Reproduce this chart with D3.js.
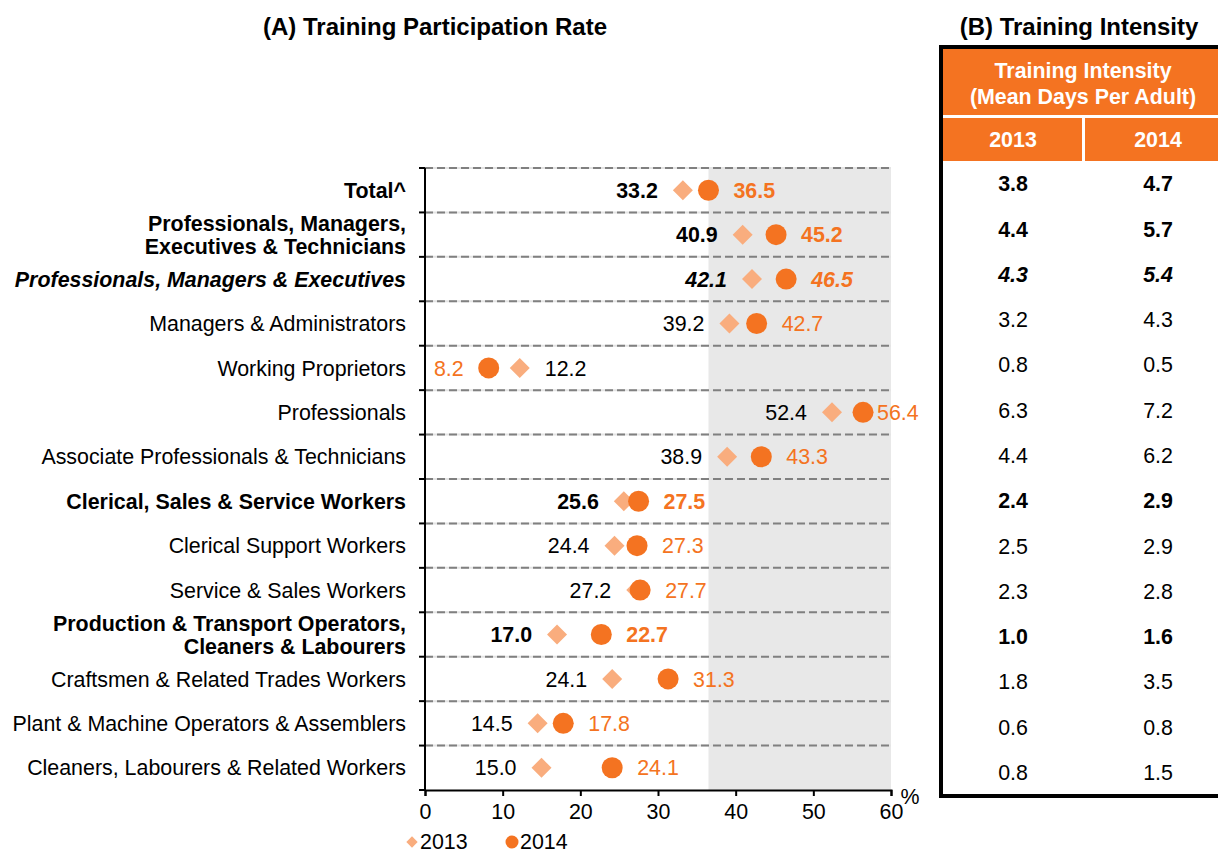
<!DOCTYPE html>
<html>
<head>
<meta charset="utf-8">
<script src="https://cdn.jsdelivr.net/npm/d3@7"></script>
<style>
  body { margin: 0; background: #fff; }
  svg { display: block; font-family: Arial, "Liberation Sans", sans-serif; }
</style>
</head>
<body>
<div id="chart"></div>
<script>
'use strict';

// occupational groups, top to bottom
var categories = [
    'Total^',
    'Professionals, Managers,\nExecutives & Technicians',
    'Professionals, Managers & Executives',
    'Managers & Administrators',
    'Working Proprietors',
    'Professionals',
    'Associate Professionals & Technicians',
    'Clerical, Sales & Service Workers',
    'Clerical Support Workers',
    'Service & Sales Workers',
    'Production & Transport Operators,\nCleaners & Labourers',
    'Craftsmen & Related Trades Workers',
    'Plant & Machine Operators & Assemblers',
    'Cleaners, Labourers & Related Workers'
];
// 0 = total / major group, 1 = sub group, 2 = detailed
var levels = [0, 0, 1, 2, 2, 2, 2, 0, 2, 2, 0, 2, 2, 2];

var rate2013 = [33.2, 40.9, 42.1, 39.2, 12.2, 52.4, 38.9, 25.6, 24.4, 27.2, 17.0, 24.1, 14.5, 15.0];
var rate2014 = [36.5, 45.2, 46.5, 42.7, 8.2, 56.4, 43.3, 27.5, 27.3, 27.7, 22.7, 31.3, 17.8, 24.1];

var intensity2013 = [3.8, 4.4, 4.3, 3.2, 0.8, 6.3, 4.4, 2.4, 2.5, 2.3, 1.0, 1.8, 0.6, 0.8];
var intensity2014 = [4.7, 5.7, 5.4, 4.3, 0.5, 7.2, 6.2, 2.9, 2.9, 2.8, 1.6, 3.5, 0.8, 1.5];

var xTicks = [0, 10, 20, 30, 40, 50, 60];
var years = ['2013', '2014'];

var W = 1218, H = 854;
var orange = '#f47321', lightOrange = '#f9ad7e';
var fs = 21.4;

var svg = d3.select('#chart').append('svg')
    .attr('width', W).attr('height', H);

var x = d3.scaleLinear().domain([0, 60]).range([425, 891]);
var y = d3.scaleBand().domain(d3.range(categories.length)).range([168, 790]);
var cy = function(i) { return y(i) + y.bandwidth() / 2; };

function weight(i) { return levels[i] < 2 ? 'bold' : 'normal'; }
function style(i) { return levels[i] === 1 ? 'italic' : 'normal'; }

// titles
svg.append('text').attr('x', 435).attr('y', 35).attr('text-anchor', 'middle')
    .style('font-size', '24px').style('font-weight', 'bold')
    .text('(A) Training Participation Rate');
svg.append('text').attr('x', 1079).attr('y', 35).attr('text-anchor', 'middle')
    .style('font-size', '24px').style('font-weight', 'bold')
    .text('(B) Training Intensity');

// shaded area right of the overall 2014 rate
svg.append('rect')
    .attr('x', x(rate2014[0])).attr('y', y.range()[0])
    .attr('width', x(60) - x(rate2014[0]))
    .attr('height', y.range()[1] - y.range()[0])
    .style('fill', '#e8e8e8');

// dashed row separators
var seps = d3.range(categories.length).map(function(i) { return y(i); });
svg.selectAll('line.sep-bg').data(seps).enter().append('line')
    .attr('x1', x(0)).attr('x2', x(60))
    .attr('y1', function(d) { return d; }).attr('y2', function(d) { return d; })
    .style('stroke', '#e4e4e4').style('stroke-width', 2);
svg.selectAll('line.sep').data(seps).enter().append('line')
    .attr('x1', x(0)).attr('x2', x(60))
    .attr('y1', function(d) { return d; }).attr('y2', function(d) { return d; })
    .style('stroke', '#808080').style('stroke-width', 2)
    .style('stroke-dasharray', '8,4');

// y axis with ticks at band edges
var yAxisG = svg.append('g');
yAxisG.append('line')
    .attr('x1', x(0)).attr('x2', x(0))
    .attr('y1', y.range()[0]).attr('y2', y.range()[1])
    .style('stroke', '#000').style('stroke-width', 2);
yAxisG.selectAll('line.tick').data(seps.concat([y.range()[1]])).enter().append('line')
    .attr('x1', x(0) - 6).attr('x2', x(0))
    .attr('y1', function(d) { return d; }).attr('y2', function(d) { return d; })
    .style('stroke', '#000').style('stroke-width', 2);

// x axis
var xAxis = d3.axisBottom(x).tickValues(xTicks).tickSize(6).tickPadding(8);
var xAxisG = svg.append('g')
    .attr('transform', 'translate(0,' + y.range()[1] + ')')
    .call(xAxis);
xAxisG.select('.domain').style('stroke', '#000').style('stroke-width', 2);
xAxisG.selectAll('.tick line').style('stroke', '#000').style('stroke-width', 2);
xAxisG.selectAll('.tick text')
    .style('font-size', fs + 'px').style('fill', '#000')
    .style('font-family', 'Arial, "Liberation Sans", sans-serif');
svg.append('text').attr('x', 910).attr('y', 804).attr('text-anchor', 'middle')
    .style('font-size', fs + 'px').text('%');

// category labels
var catLabels = svg.selectAll('text.cat').data(categories).enter().append('text')
    .attr('x', 406)
    .attr('text-anchor', 'end')
    .style('font-size', fs + 'px')
    .style('font-weight', function(d, i) { return weight(i); })
    .style('font-style', function(d, i) { return style(i); });
catLabels.each(function(d, i) {
    var lines = d.split('\n');
    var t = d3.select(this);
    lines.forEach(function(l, k) {
        t.append('tspan')
            .attr('x', 406)
            .attr('y', cy(i) + (k - (lines.length - 1) / 2) * 23)
            .attr('dy', '0.36em')
            .text(l);
    });
});

// markers: 2013 diamonds under 2014 circles
svg.selectAll('path.d13').data(rate2013).enter().append('path')
    .attr('d', d3.symbol().type(d3.symbolSquare).size(200))
    .attr('transform', function(d, i) { return 'translate(' + x(d) + ',' + cy(i) + ') rotate(45)'; })
    .style('fill', lightOrange);
svg.selectAll('circle.d14').data(rate2014).enter().append('circle')
    .attr('cx', function(d) { return x(d); })
    .attr('cy', function(d, i) { return cy(i); })
    .attr('r', 10.5)
    .style('fill', orange);

// value labels: the lower value sits left, the higher one right
var gap = 25, rightLimit = 918;
rate2013.forEach(function(v13, i) {
    var v14 = rate2014[i];
    var lo13 = v13 <= v14;
    var base = svg.append('g')
        .style('font-size', fs + 'px')
        .style('font-weight', weight(i))
        .style('font-style', style(i));
    base.append('text')
        .attr('x', lo13 ? x(v13) - gap : x(v13) + gap)
        .attr('y', cy(i)).attr('dy', '0.36em')
        .attr('text-anchor', lo13 ? 'end' : 'start')
        .style('fill', '#000')
        .text(v13.toFixed(1));
    var t14 = base.append('text')
        .attr('x', lo13 ? x(v14) + gap : x(v14) - gap)
        .attr('y', cy(i)).attr('dy', '0.36em')
        .attr('text-anchor', lo13 ? 'start' : 'end')
        .style('fill', orange)
        .text(v14.toFixed(1));
    if (lo13) {
        var w = t14.node().getComputedTextLength();
        if (x(v14) + gap + w > rightLimit) t14.attr('x', Math.max(x(v14) + 14, rightLimit - w));
    }
});

// legend
var legend = svg.append('g').style('font-size', fs + 'px');
legend.append('path')
    .attr('d', d3.symbol().type(d3.symbolSquare).size(64))
    .attr('transform', 'translate(412,842) rotate(45)')
    .style('fill', lightOrange);
legend.append('text').attr('x', 420).attr('y', 849).text(years[0]);
legend.append('circle').attr('cx', 512).attr('cy', 842).attr('r', 6.5).style('fill', orange);
legend.append('text').attr('x', 520).attr('y', 849).text(years[1]);

// table (B), its body rows are slightly taller than the chart rows
var ty = d3.scaleBand().domain(d3.range(categories.length)).range([161, 795]);
var tcy = function(i) { return ty(i) + ty.bandwidth() / 2; };
var tbl = svg.append('g');
tbl.append('rect').attr('x', 941).attr('y', 47).attr('width', 290).attr('height', 114)
    .style('fill', orange);
tbl.append('line').attr('x1', 941).attr('x2', 1230).attr('y1', 116.5).attr('y2', 116.5)
    .style('stroke', '#fff').style('stroke-width', 3);
tbl.append('line').attr('x1', 1083.5).attr('x2', 1083.5).attr('y1', 116).attr('y2', 161)
    .style('stroke', '#fff').style('stroke-width', 3);

var head = tbl.append('g').style('fill', '#fff').style('font-weight', 'bold')
    .style('font-size', fs + 'px').attr('text-anchor', 'middle');
head.append('text').attr('x', 1083).attr('y', 70).attr('dy', '0.36em').text('Training Intensity');
head.append('text').attr('x', 1083).attr('y', 96).attr('dy', '0.36em').text('(Mean Days Per Adult)');
years.forEach(function(yr, k) {
    head.append('text').attr('x', [1013, 1158][k]).attr('y', 139).attr('dy', '0.36em').text(yr);
});

[intensity2013, intensity2014].forEach(function(arr, k) {
    tbl.selectAll('text.v' + k).data(arr).enter().append('text')
        .attr('x', [1013, 1158][k])
        .attr('y', function(d, i) { return tcy(i); })
        .attr('dy', '0.36em')
        .attr('text-anchor', 'middle')
        .style('font-size', fs + 'px')
        .style('font-weight', function(d, i) { return weight(i); })
        .style('font-style', function(d, i) { return style(i); })
        .text(function(d) { return d.toFixed(1); });
});

tbl.append('rect').attr('x', 941).attr('y', 47).attr('width', 290).attr('height', 749)
    .style('fill', 'none').style('stroke', '#000').style('stroke-width', 4);
</script>
</body>
</html>
